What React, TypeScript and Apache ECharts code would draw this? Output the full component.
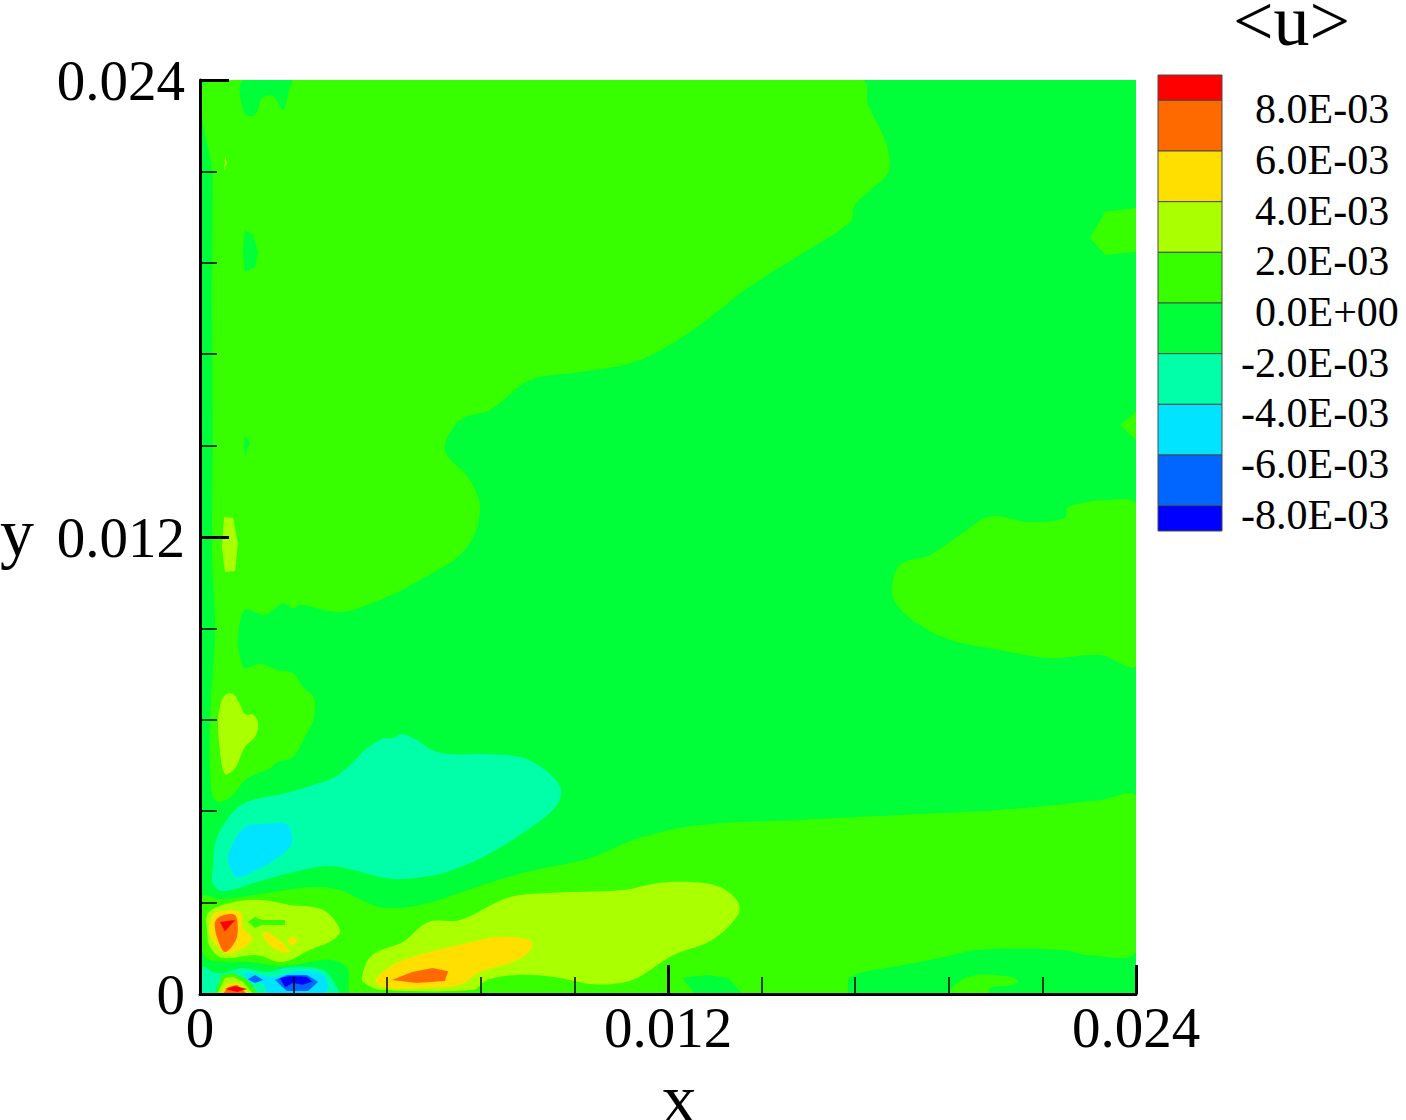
import React, { useEffect, useRef } from "react";
import * as echarts from "echarts";

// Field coordinates below are [x, y] in units of 1e-3 (same units as the axes / 1000).
const SCALE = 1e-3;
const xTicks = [0, 0.012, 0.024];
const levels = [8, 6, 4, 2, 0, -2, -4, -6, -8];
const levelLabels = ["8.0E-03", "6.0E-03", "4.0E-03", "2.0E-03", "0.0E+00", "-2.0E-03", "-4.0E-03", "-6.0E-03", "-8.0E-03"];
const bandEdges = [9, 8, 6, 4, 2, 0, -2, -4, -6, -8, -9];
const bandColors = ["#ff0000", "#ff6a00", "#ffdf00", "#aaff00", "#38ff00", "#00ff38", "#00ffa8", "#00e4ff", "#0066ff", "#0000ff"];

const domain = [[0, 0], [24, 0], [24, 24], [0, 24]];
const posUpperLeft = [[0.33, 24], [16.97, 24], [17.13, 23.35], [17.56, 22.43], [17.67, 21.64], [17.18, 21.11], [16.79, 20.72], [16.67, 20.27], [15.38, 19.41], [13.97, 18.49], [12.82, 17.57], [11.28, 16.65], [9.74, 16.33], [8.46, 16.12], [7.44, 15.34], [6.67, 15.07], [6.28, 14.29], [6.92, 13.5], [7.18, 12.71], [6.79, 11.66], [5.64, 10.87], [4.62, 10.35], [3.59, 10.03], [2.56, 10.22], [2.38, 10.13], [2.13, 10.26], [1.67, 9.96], [1.15, 10.08], [0.97, 9.3], [1.03, 8.85], [1.15, 8.56], [1.54, 8.67], [1.97, 8.51], [2.38, 8.43], [2.64, 8.06], [2.92, 7.77], [2.92, 7.25], [2.69, 6.75], [2.38, 6.22], [2.0, 6.09], [1.79, 5.93], [1.15, 5.62], [0.85, 5.23], [0.51, 5.04], [0.31, 5.23], [0.26, 7.12], [0.38, 9.3], [0.38, 10.03], [0.31, 11.4], [0.33, 14.73], [0.31, 18.22], [0.33, 21.38]];
const posLowerBand = [[24, 5.17], [23.08, 5.09], [20.51, 4.83], [17.95, 4.7], [15.38, 4.57], [12.82, 4.44], [11.28, 4.1], [10.0, 3.57], [8.28, 3.18], [7.0, 2.78], [5.97, 2.42], [5.31, 2.28], [4.62, 2.28], [4.03, 2.52], [3.59, 2.73], [2.9, 2.81], [1.87, 2.68], [0.59, 2.49], [0.05, 2.55], [0.05, 1.16], [0.26, 0.89], [1.28, 0.84], [2.13, 0.74], [3.33, 0.89], [3.77, 0.68], [3.92, 0], [16.54, 0], [16.67, 0.45], [18.03, 0.76], [19.1, 0.97], [19.92, 1.16], [22.05, 1.16], [22.82, 1.02], [24, 1.13]];
const posRightA = [[24, 20.64], [23.21, 20.54], [22.82, 19.85], [23.21, 19.41], [24, 19.49]];
const posRightB = [[24, 15.28], [23.59, 14.94], [24, 14.55]];
const posRightC = [[17.74, 10.61], [17.95, 11.27], [18.72, 11.53], [19.49, 12.05], [20.26, 12.53], [21.28, 12.39], [22.18, 12.5], [22.26, 12.79], [23.33, 12.97], [24, 12.84], [24, 8.64], [23.08, 8.9], [21.79, 8.82], [20.51, 9.03], [19.23, 9.3], [18.33, 9.77], [17.87, 10.22]];
const posIslandBottom = [[19.23, 0], [19.41, 0.29], [19.92, 0.5], [20.77, 0.45], [20.97, 0.34], [20.85, 0.24], [20.26, 0.16], [20.21, 0]];
const negTopPatch = [[1.1, 24], [1.13, 23.14], [1.41, 23.08], [1.59, 23.53], [1.87, 23.58], [2.13, 23.21], [2.26, 23.66], [2.33, 24]];
const negOval = [[1.15, 20.06], [1.36, 19.93], [1.49, 19.49], [1.41, 19.09], [1.15, 18.96], [1.1, 19.54]];
const negSliver = [[1.15, 14.65], [1.28, 14.5], [1.15, 14.1], [1.13, 14.47]];
const negBottomPatch = [[12.36, 0.42], [13.0, 0.5], [13.54, 0.42], [13.92, 0], [12.69, 0]];
const midTopSliver = [[0.64, 22.01], [0.69, 21.82], [0.62, 21.64]];
const midEllipse = [[0.62, 12.53], [0.85, 12.5], [0.97, 11.84], [0.9, 11.11], [0.64, 11.08], [0.56, 11.74]];
const midLeftLobe = [[0.64, 7.85], [0.85, 7.88], [1.03, 7.59], [1.15, 7.35], [1.36, 7.33], [1.49, 7.12], [1.41, 6.75], [1.15, 6.49], [0.9, 5.93], [0.64, 5.78], [0.51, 6.41], [0.46, 7.12], [0.51, 7.54]];
const mintBlob = [[1.15, 5.02], [2.23, 5.28], [2.9, 5.49], [3.41, 5.67], [3.92, 6.07], [4.18, 6.36], [4.67, 6.7], [4.95, 6.72], [5.18, 6.83], [5.56, 6.67], [5.95, 6.41], [6.41, 6.3], [7.26, 6.3], [8.21, 6.22], [8.79, 5.93], [9.18, 5.54], [9.26, 5.23], [9.05, 4.83], [8.28, 4.23], [7.26, 3.6], [6.23, 3.18], [5.21, 3.02], [4.62, 3.07], [3.92, 3.26], [3.33, 3.36], [2.64, 3.26], [1.46, 2.94], [0.59, 2.7], [0.33, 2.91], [0.33, 3.34], [0.41, 4.04], [0.69, 4.57]];
const cyanBlob = [[1.15, 4.39], [1.59, 4.46], [2.23, 4.46], [2.36, 4.12], [2.31, 3.86], [1.79, 3.44], [1.28, 3.18], [0.97, 3.07], [0.77, 3.31], [0.74, 3.7]];
const midJet = [[4.15, 0.42], [4.41, 1.02], [5.21, 1.37], [5.85, 1.89], [6.67, 1.94], [7.87, 2.52], [8.9, 2.65], [10.85, 2.73], [11.72, 2.91], [12.56, 2.94], [13.33, 2.81], [13.79, 2.42], [13.79, 2.07], [13.13, 1.42], [12.13, 1.02], [11.21, 0.42], [10.77, 0.29], [10.0, 0.26], [9.05, 0.45], [8.13, 0.5], [7.36, 0.37], [7.0, 0.11], [4.62, 0.11], [4.28, 0.24]];
const yellowJet = [[4.49, 0.37], [5.21, 0.89], [6.85, 1.34], [7.62, 1.5], [8.46, 1.42], [8.51, 1.21], [8.13, 0.89], [7.18, 0.58], [6.67, 0.24], [5.82, 0.16], [4.79, 0.16]];
const orangeJet = [[4.92, 0.37], [5.44, 0.58], [5.97, 0.68], [6.36, 0.6], [6.28, 0.34], [5.56, 0.29]];
const midCorner = [[0.21, 2.13], [0.77, 2.39], [1.54, 2.47], [2.31, 2.34], [3.15, 2.21], [3.59, 1.68], [3.41, 1.42], [2.82, 1.16], [2.13, 0.84], [1.46, 1.02], [0.59, 0.95], [0.26, 1.23], [0.18, 1.68]];
const yellowCorner = [[0.38, 2.13], [1.03, 2.15], [1.1, 1.76], [1.33, 1.42], [0.85, 1.08], [0.59, 1.1], [0.26, 1.55], [0.26, 1.86]];
const yellowStreak = [[1.59, 1.63], [1.79, 1.6], [2.13, 1.34], [2.31, 1.1], [2.18, 1.08], [1.87, 1.21], [1.67, 1.42]];
const yellowDiamond = [[2.38, 1.52], [2.51, 1.39], [2.36, 1.26], [2.23, 1.39]];
const orangeCorner = [[0.41, 1.94], [0.59, 2.07], [0.9, 2.07], [0.97, 1.68], [0.9, 1.37], [0.64, 1.1], [0.46, 1.42], [0.38, 1.76]];
const redCorner = [[0.51, 1.89], [0.9, 1.94], [0.64, 1.65]];
const posSpot = [[1.23, 1.89], [1.41, 2.02], [1.59, 1.94], [2.18, 1.94], [2.18, 1.81], [1.59, 1.81], [1.41, 1.73]];
const mintWall = [[0.08, 0.71], [0.33, 0.58], [0.59, 0.55], [1.1, 0.68], [1.72, 0.58], [2.31, 0.71], [3.15, 0.63], [3.51, 0.18], [3.54, 0], [0.08, 0]];
const cyanWall = [[1.15, 0.55], [1.54, 0.5], [1.87, 0.45], [2.49, 0.6], [3.08, 0.55], [3.28, 0.24], [3.15, 0], [1.79, 0], [1.59, 0.29], [1.21, 0.32]];
const blueWall = [[1.92, 0.37], [2.23, 0.5], [2.74, 0.5], [3.03, 0.32], [2.77, 0.08], [2.23, 0.08]];
const blueDot = [[1.23, 0.39], [1.41, 0.5], [1.62, 0.37], [1.41, 0.29]];
const deepWall = [[2.05, 0.42], [2.31, 0.47], [2.74, 0.45], [2.87, 0.32], [2.64, 0.24], [2.38, 0.29], [2.18, 0.18]];
const hotGreen = [[0.38, 0], [0.56, 0.5], [0.85, 0.55], [1.23, 0.37], [1.49, 0]];
const hotMid = [[0.44, 0], [0.64, 0.42], [0.85, 0.45], [1.1, 0.32], [1.36, 0]];
const hotYellow = [[0.51, 0], [0.69, 0.26], [0.95, 0.29], [1.28, 0]];
const hotOrange = [[0.59, 0], [0.72, 0.18], [0.95, 0.24], [1.21, 0]];
const hotRed = [[0.64, 0.13], [0.9, 0.21], [1.21, 0.13], [0.95, 0.05]];

// [outline, index into bandColors], in paint order
const layers: [number[][], number][] = [
  [domain, 5],
  [posUpperLeft, 4], [posLowerBand, 4], [posRightA, 4], [posRightB, 4], [posRightC, 4], [posIslandBottom, 4],
  [negTopPatch, 5], [negOval, 5], [negSliver, 5], [negBottomPatch, 5],
  [midTopSliver, 3], [midEllipse, 3], [midLeftLobe, 3],
  [mintBlob, 6], [cyanBlob, 7],
  [midJet, 3], [yellowJet, 2], [orangeJet, 1],
  [midCorner, 3], [yellowCorner, 2], [yellowStreak, 2], [yellowDiamond, 2], [orangeCorner, 1], [redCorner, 0], [posSpot, 4],
  [mintWall, 6], [cyanWall, 7], [blueWall, 8], [blueDot, 8], [deepWall, 9],
  [hotGreen, 4], [hotMid, 3], [hotYellow, 2], [hotOrange, 1], [hotRed, 0],
];

const SERIF = '"Liberation Serif", "Times New Roman", serif';

function fieldItem(params: any, api: any) {
  const [outline, colorIndex] = layers[params.dataIndex];
  return {
    type: "polygon",
    shape: {
      points: outline.map((p) => api.coord([p[0] * SCALE, p[1] * SCALE])),
      smooth: outline.length >= 8 ? 0.35 : 0,
    },
    style: { fill: bandColors[colorIndex], stroke: null },
  };
}

function legendItem(params: any, api: any) {
  const i = params.dataIndex;
  const a = api.coord([0, bandEdges[i]]);
  const b = api.coord([1, bandEdges[i + 1]]);
  return {
    type: "rect",
    shape: { x: a[0], y: a[1], width: b[0] - a[0], height: b[1] - a[1] },
    style: { fill: bandColors[i], stroke: "#4a4a4a", lineWidth: 1 },
  };
}

function legendLabel(params: any, api: any) {
  const i = params.dataIndex;
  const p = api.coord([1, levels[i]]);
  return {
    type: "text",
    x: p[0] + (levels[i] < 0 ? 19 : 33),
    y: p[1] + 9,
    style: { text: levelLabels[i], fill: "#000", font: `42px ${SERIF}`, textAlign: "left", textVerticalAlign: "middle" },
  };
}

export default function App() {
  const ref = useRef<HTMLDivElement>(null);
  useEffect(() => {
    const chart = echarts.init(ref.current!, undefined, { renderer: "svg" });
    const axisCommon = {
      type: "value",
      min: 0,
      max: 0.024,
      interval: 0.012,
      z: 10,
      splitLine: { show: false },
      axisLine: { show: true, lineStyle: { color: "#000", width: 3 } },
      axisTick: { show: true, inside: true, length: 29, lineStyle: { color: "#000", width: 3 } },
      minorTick: { show: true, splitNumber: 5, length: 17, lineStyle: { color: "#000", width: 1.5 } },
      minorSplitLine: { show: false },
    };
    const fmt = (v: number) => (v === 0 ? "0" : xTicks.find((t) => Math.abs(t - v) < 1e-9)!.toFixed(3));
    chart.setOption({
      animation: false,
      backgroundColor: "#fff",
      title: {
        text: "<u>",
        left: 1233,
        top: 2,
        padding: 0,
        textStyle: { fontFamily: SERIF, fontSize: 72, lineHeight: 38, fontWeight: "normal", color: "#000" },
      },
      grid: [
        { left: 200, top: 80, width: 936, height: 914, outerBoundsMode: "none" },
        { left: 1158, top: 75, width: 64, height: 456, outerBoundsMode: "none" },
      ],
      xAxis: [
        {
          ...axisCommon,
          gridIndex: 0,
          name: "x",
          nameLocation: "middle",
          nameGap: 84,
          nameTextStyle: { fontFamily: SERIF, fontSize: 70, lineHeight: 40, color: "#000", padding: [0, 0, 0, 22] },
          axisLabel: { fontFamily: SERIF, fontSize: 57, color: "#000", margin: 5, formatter: fmt, hideOverlap: false, showMinLabel: true, showMaxLabel: true },
        },
        { type: "value", gridIndex: 1, min: 0, max: 1, show: false },
      ],
      yAxis: [
        {
          ...axisCommon,
          gridIndex: 0,
          name: "y",
          nameLocation: "middle",
          nameRotate: 0,
          nameGap: 166,
          nameTextStyle: { fontFamily: SERIF, fontSize: 68, lineHeight: 8, verticalAlign: "bottom", color: "#000" },
          axisLabel: { fontFamily: SERIF, fontSize: 57, color: "#000", margin: 15, padding: [3, 0, 0, 0], formatter: fmt, hideOverlap: false, showMinLabel: true, showMaxLabel: true },
        },
        { type: "value", gridIndex: 1, min: -9, max: 9, show: false },
      ],
      series: [
        { type: "custom", silent: true, xAxisIndex: 0, yAxisIndex: 0, clip: true, renderItem: fieldItem, data: layers.map((_, i) => [0, i * SCALE / 10]) },
        { type: "custom", silent: true, xAxisIndex: 1, yAxisIndex: 1, clip: false, renderItem: legendItem, data: bandColors.map((_, i) => [0, bandEdges[i]]) },
        { type: "custom", silent: true, xAxisIndex: 1, yAxisIndex: 1, clip: false, renderItem: legendLabel, data: levels.map((v) => [1, v]) },
      ],
    });
    return () => chart.dispose();
  }, []);
  return <div ref={ref} style={{ position: "absolute", left: 0, top: 0, width: 1406, height: 1120 }} />;
}
